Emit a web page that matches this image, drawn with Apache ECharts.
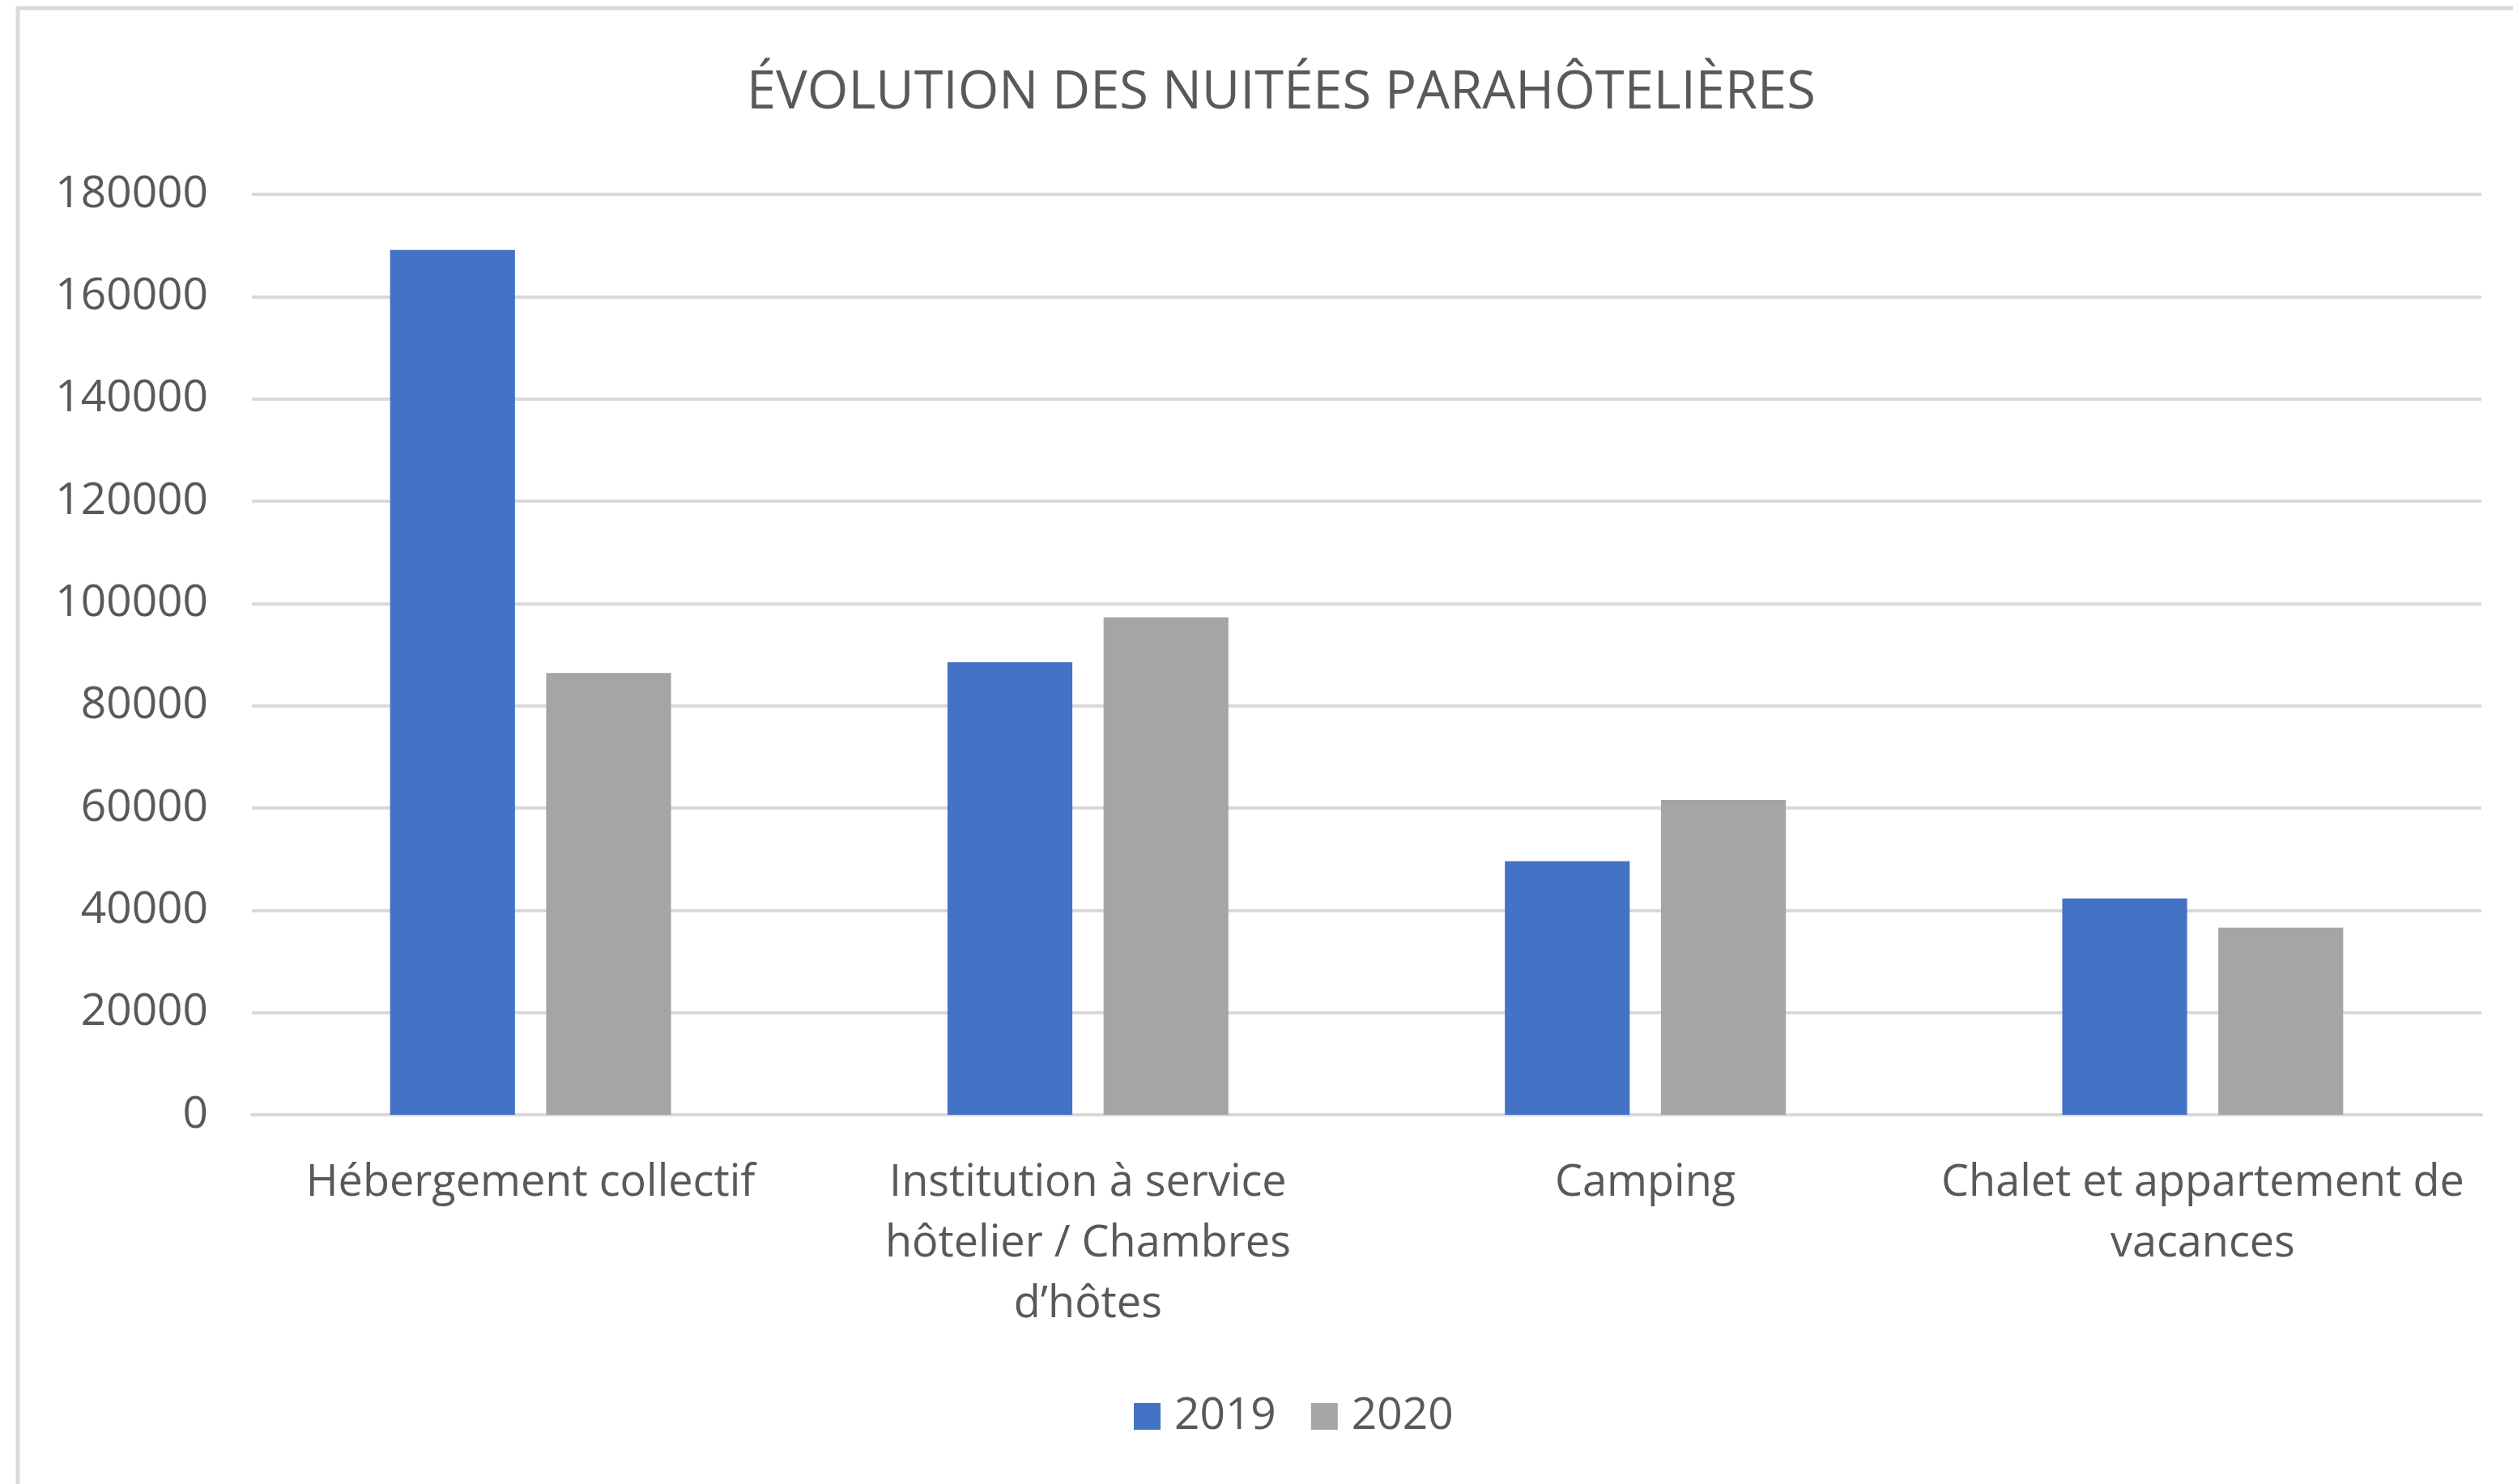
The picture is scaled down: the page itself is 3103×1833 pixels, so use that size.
<!DOCTYPE html>
<html lang="fr">
<head>
    <meta charset="UTF-8">
    <title>Évolution des nuitées parahôtelières</title>
    <script src="https://cdn.jsdelivr.net/npm/echarts@6.0.0/dist/echarts.min.js"></script>
    <style>
        html, body { margin: 0; padding: 0; background: #fff; }
        #main { width: 3103px; height: 1833px; }
    </style>
</head>
<body>
    <div id="main"></div>

    <script>
        // catégories (retours à la ligne comme dans l'original)
        var categories = [
            'Hébergement collectif',
            'Institution à service\nhôtelier / Chambres\nd’hôtes',
            'Camping',
            'Chalet et appartement de\nvacances'
        ];
        var seriesNames = ['2019', '2020'];
        var values2019 = [169100, 88500, 49600, 42300];
        var values2020 = [86400, 97300, 61600, 36600];
        var yTicks = { min: 0, max: 180000, step: 20000 };

        var font = '"Open Sans", "Noto Sans", sans-serif';
        var textGray = '#595959';
        var lineGray = '#d9d9d9';

        var myChart = echarts.init(document.getElementById('main'));
        var option = {
            backgroundColor: '#fff',
            animation: false,
            title: {
                text: 'ÉVOLUTION DES NUITÉES PARAHÔTELIÈRES',
                left: 922,
                top: 83,
                padding: 0,
                textStyle: {
                    color: textGray,
                    fontFamily: font,
                    fontWeight: 'normal',
                    fontSize: 65
                }
            },
            legend: {
                data: seriesNames,
                bottom: 56,
                left: 1400,
                padding: 0,
                icon: 'rect',
                itemWidth: 33,
                itemHeight: 33,
                itemGap: 43,
                textStyle: { color: textGray, fontFamily: font, fontSize: 55, padding: [0, 0, 0, 12] }
            },
            grid: {
                left: 311,
                right: 39,
                top: 240,
                bottom: 456
            },
            xAxis: {
                type: 'category',
                data: categories,
                axisTick: { show: false },
                axisLine: { lineStyle: { color: lineGray, width: 4 } },
                axisLabel: {
                    color: textGray,
                    fontFamily: font,
                    fontSize: 54,
                    lineHeight: 75,
                    margin: 47,
                    interval: 0
                }
            },
            yAxis: {
                type: 'value',
                min: yTicks.min,
                max: yTicks.max,
                interval: yTicks.step,
                axisLine: { show: false },
                axisTick: { show: false },
                splitLine: { lineStyle: { color: lineGray, width: 4 } },
                axisLabel: {
                    color: textGray,
                    fontFamily: font,
                    fontSize: 55,
                    margin: 54,
                    formatter: function (v) { return String(v); }
                }
            },
            series: [
                {
                    name: seriesNames[0],
                    type: 'bar',
                    data: values2019,
                    barWidth: '22.4%',
                    barGap: '25%',
                    itemStyle: { color: '#4472C4' }
                },
                {
                    name: seriesNames[1],
                    type: 'bar',
                    data: values2020,
                    barWidth: '22.4%',
                    barGap: '25%',
                    itemStyle: { color: '#A5A5A5' }
                }
            ],
            graphic: [
                {
                    type: 'rect',
                    silent: true,
                    shape: { x: 22, y: 10, width: 3300, height: 2000 },
                    style: { fill: 'none', stroke: lineGray, lineWidth: 5 }
                }
            ]
        };

        myChart.setOption(option);
    </script>
</body>
</html>
